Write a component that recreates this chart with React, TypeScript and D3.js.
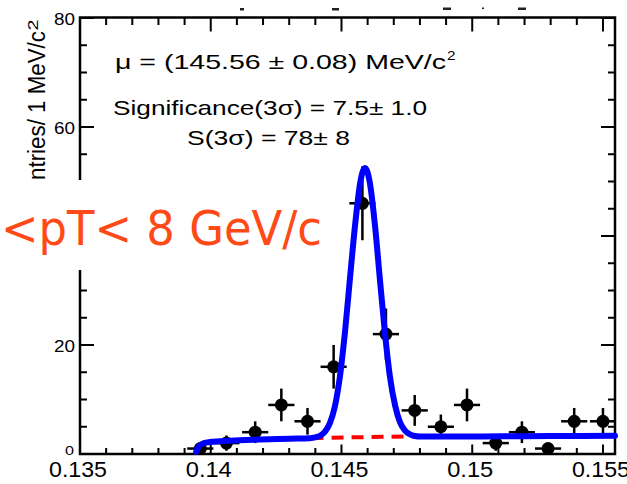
import React from 'react';
import * as d3 from 'd3';

// ---- data ----
const binCenters = [0.1396, 0.1406, 0.1417, 0.1427, 0.1437, 0.1447, 0.1458, 0.1467, 0.1478, 0.1488, 0.1498, 0.1509, 0.1519, 0.1529, 0.1539, 0.1550];
const counts = [1, 2, 4, 9, 6, 16, 46, 22, 8, 5, 9, 2, 4, 1, 6, 6];
const countErrors = [1, 1.41, 2, 3, 2.45, 4, 6.78, 4.69, 2.83, 2.24, 3, 1.41, 2, 1, 2.45, 2.45];
const binHalfWidth = 0.0005;

// total fit curve (blue)
const fitX = [0.13944, 0.13951, 0.13959, 0.13974, 0.13997, 0.14074, 0.14188, 0.14303, 0.14380, 0.14399, 0.14418, 0.14437, 0.14456, 0.14475, 0.14494, 0.14513, 0.14532, 0.14552, 0.14571, 0.14590, 0.14609, 0.14628, 0.14647, 0.14666, 0.14685, 0.14705, 0.14724, 0.14743, 0.14762, 0.14781, 0.14800, 0.14915, 0.15106, 0.15297, 0.15546];
const fitY = [0.4, 1.1, 1.6, 2.0, 2.2, 2.45, 2.65, 2.8, 2.9, 3.05, 3.35, 4.1, 5.7, 8.8, 14.2, 22.2, 32.0, 42.0, 49.6, 52.5, 49.6, 42.0, 32.0, 22.3, 14.3, 8.9, 5.8, 4.3, 3.6, 3.3, 3.2, 3.2, 3.25, 3.3, 3.35];

// background curve (red dashed)
const bkgX = [0.13944, 0.13951, 0.13959, 0.13974, 0.13997, 0.14074, 0.14188, 0.14303, 0.14418, 0.14590, 0.14781, 0.14915, 0.15106, 0.15297, 0.15546];
const bkgY = [0.4, 1.1, 1.6, 2.0, 2.2, 2.45, 2.65, 2.8, 2.95, 3.1, 3.2, 3.2, 3.25, 3.3, 3.35];

const xTickValues = [0.135, 0.14, 0.145, 0.15, 0.155];
const xTickLabels = ['0.135', '0.14', '0.145', '0.15', '0.155'];
const yTickValues = [0, 20, 40, 60, 80];
// the "40" label is hidden under the overlay box in the reference
const yLabelValues = [0, 20, 60, 80];
const yLabelTexts = ['0', '20', '60', '80'];

const W = 627;
const H = 484;
const L = 80;
const R = 615;
const T = 17.5;
const B = 454;
const FONT = "'Liberation Sans', Arial, Helvetica, sans-serif";

export default function App() {
  const x = d3.scaleLinear().domain([0.135, 0.15546]).range([L, R]);
  const y = d3.scaleLinear().domain([0, 80]).range([B, 18]);

  const xMinor = x.ticks(20);
  const yMinor = y.ticks(16);

  const fitLine = d3
    .line<number>()
    .x((_, i) => x(fitX[i]))
    .y((d) => y(d))
    .curve(d3.curveMonotoneX);
  const bkgLine = d3
    .line<number>()
    .x((_, i) => x(bkgX[i]))
    .y((d) => y(d))
    .curve(d3.curveMonotoneX);

  const artifacts = [
    { x: 240, y: 8, w: 4, h: 2.5 },
    { x: 332, y: 8, w: 7, h: 2.5 },
    { x: 443, y: 7.5, w: 8, h: 2.5 },
    { x: 482, y: 7.5, w: 2, h: 1.5 },
    { x: 518, y: 7.5, w: 8, h: 2.5 },
  ];

  return (
    <svg width={W} height={H} style={{ position: 'absolute', left: 0, top: 0, background: '#fff' }}>
      <rect x={0} y={0} width={W} height={H} fill="#fff" />
      {artifacts.map((a, i) => (
        <rect key={'a' + i} x={a.x} y={a.y} width={a.w} height={a.h} fill="#222" />
      ))}

      {/* ticks */}
      <g stroke="#000" strokeWidth={2}>
        {xMinor.map((v, i) => {
          const major = xTickValues.some((m) => Math.abs(m - v) < 1e-7);
          const px = x(v);
          return (
            <g key={'xt' + i}>
              <line x1={px} x2={px} y1={T} y2={T + (major ? 14 : 7.5)} />
              <line x1={px} x2={px} y1={B} y2={B - (major ? 9.5 : 6)} />
            </g>
          );
        })}
        {yMinor.map((v, i) => {
          const major = yTickValues.includes(v);
          const py = y(v);
          return (
            <g key={'yt' + i}>
              <line x1={L} x2={L + (major ? 14 : 7)} y1={py} y2={py} />
              <line x1={R} x2={R - (major ? 14 : 7)} y1={py} y2={py} />
            </g>
          );
        })}
      </g>
      <rect x={L} y={T} width={R - L} height={B - T} fill="none" stroke="#000" strokeWidth={2.5} />

      {/* axis labels */}
      <g fontFamily={FONT} fill="#000">
        {xTickValues.map((v, i) => (
          <text
            key={'xl' + i}
            x={x(v) - 2}
            y={477}
            fontSize={22}
            textAnchor="middle"
            textLength={xTickLabels[i].length === 5 ? 58 : 46}
            lengthAdjust="spacingAndGlyphs"
          >
            {xTickLabels[i]}
          </text>
        ))}
        {yLabelValues.map((v, i) => (
          <text
            key={'yl' + i}
            x={v === 0 ? 74 : 75}
            y={v === 0 ? y(v) + 1 : y(v) + 7}
            fontSize={v === 0 ? 13 : 16}
            textAnchor="end"
            textLength={yLabelTexts[i].length === 1 ? 9 : 21}
            lengthAdjust="spacingAndGlyphs"
          >
            {yLabelTexts[i]}
          </text>
        ))}
        <text transform="translate(45,180) rotate(-90)" fontSize={23} textLength={149} lengthAdjust="spacingAndGlyphs">
          ntries/ 1 MeV/c
        </text>
        <text transform="translate(38,30.5) rotate(-90)" fontSize={14} textLength={11} lengthAdjust="spacingAndGlyphs">
          2
        </text>

        <text x={115} y={69} fontSize={21} textLength={331} lengthAdjust="spacingAndGlyphs">
          μ = (145.56 ± 0.08) MeV/c
        </text>
        <text x={447} y={60} fontSize={13} textLength={8.5} lengthAdjust="spacingAndGlyphs">
          2
        </text>
        <text x={113} y={115} fontSize={21} textLength={314} lengthAdjust="spacingAndGlyphs">
          Significance(3σ) = 7.5± 1.0
        </text>
        <text x={187} y={145} fontSize={21} textLength={163} lengthAdjust="spacingAndGlyphs">
          S(3σ) = 78± 8
        </text>
      </g>

      {/* overlay label box */}
      <rect x={0} y={180} width={332} height={90} fill="#fff" />
      <text
        x={1}
        y={245}
        fontFamily="'DejaVu Sans', 'Noto Sans', sans-serif"
        fontSize={48}
        fill="#ff4a17"
        textLength={321}
        lengthAdjust="spacingAndGlyphs"
      >
        {'<pT< 8 GeV/c'}
      </text>

      {/* data points */}
      <g stroke="#000" strokeWidth={2.5}>
        {counts.map((c, i) => {
          const cx = x(binCenters[i]);
          const cy = y(c);
          return (
            <g key={'p' + i}>
              <line x1={x(binCenters[i] - binHalfWidth)} x2={x(binCenters[i] + binHalfWidth)} y1={cy} y2={cy} />
              <line x1={cx} x2={cx} y1={y(c - countErrors[i])} y2={y(c + countErrors[i])} />
              <circle cx={cx} cy={cy} r={6.5} fill="#000" stroke="none" />
            </g>
          );
        })}
      </g>

      {/* curves */}
      <path d={bkgLine(bkgY) || ''} fill="none" stroke="#ff0000" strokeWidth={4} strokeDasharray="12 8" />
      <path d={fitLine(fitY) || ''} fill="none" stroke="#0000ff" strokeWidth={6} strokeLinecap="round" strokeLinejoin="round" />
    </svg>
  );
}
